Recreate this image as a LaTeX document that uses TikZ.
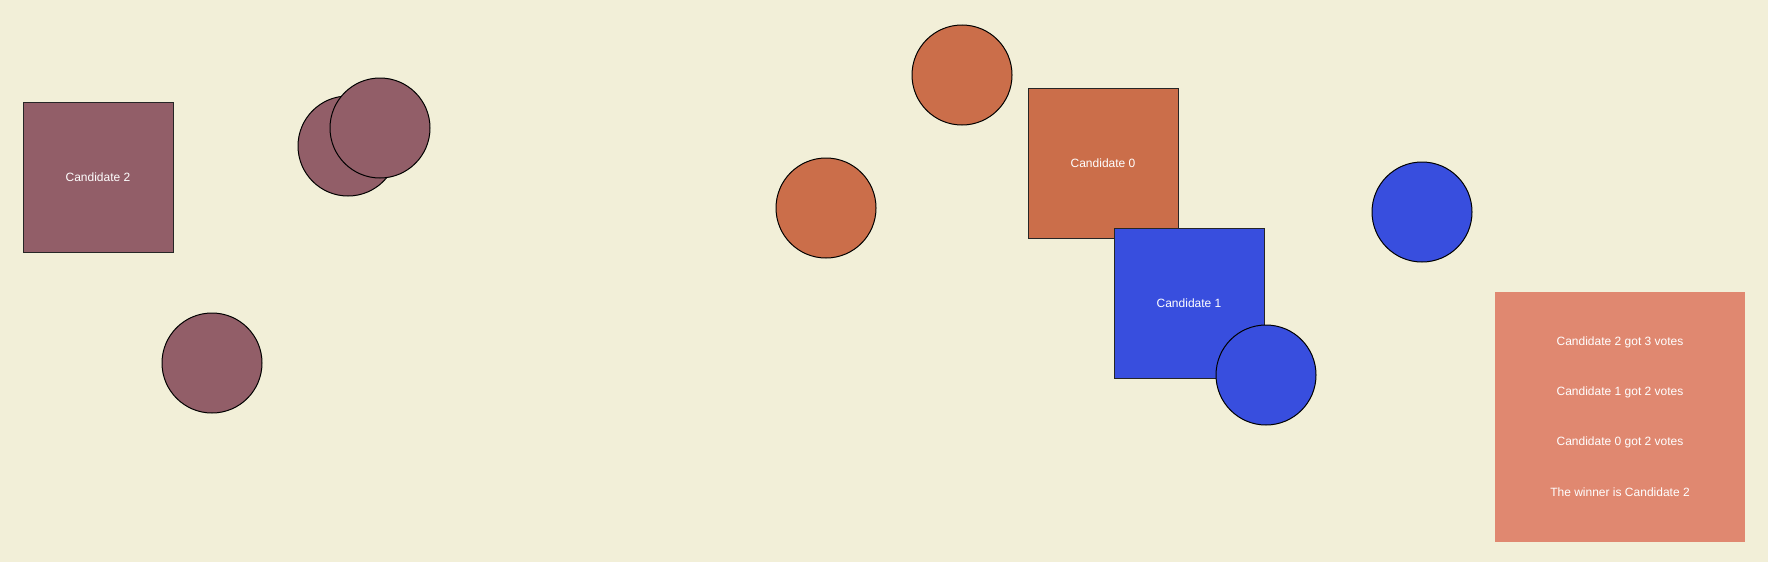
\documentclass[tikz,border=0pt]{standalone}
\usepackage{fontspec}
\setmainfont{Liberation Sans}
\usepackage{tikz}
\usepackage{xcolor}
\definecolor{bgcream}{RGB}{242,239,216}
\definecolor{plum}{RGB}{146,94,104}
\definecolor{rust}{RGB}{203,110,74}
\definecolor{royal}{RGB}{56,78,222}
\definecolor{salmon}{RGB}{224,136,112}
\tikzset{
  cand/.style={rectangle, draw=black!85, line width=1pt, minimum size=150pt,
               inner sep=0pt, text=white, font=\fontsize{12}{14}\selectfont},
  voter/.style={circle, draw=black, line width=1pt, minimum size=100pt,
                inner sep=0pt},
  tallybox/.style={rectangle, fill=salmon, minimum size=250pt, inner sep=0pt},
  tallyline/.style={text=white, inner sep=0pt, font=\fontsize{12}{14}\selectfont},
}

\begin{document}
\begin{tikzpicture}[x=1pt, y=-1pt]
  \fill[bgcream] (0,0) rectangle (1768,562);
  \useasboundingbox (0,0) rectangle (1768,562);

  % candidate 2 and its voters
  \node[cand, fill=plum] (cand2) at (98,177) {Candidate 2};
  \node[voter, fill=plum] (v2a) at (348,146) {};
  \node[voter, fill=plum] (v2b) at (380,128) {};
  \node[voter, fill=plum] (v2c) at (212,363) {};

  % candidate 0 and its voters
  \node[voter, fill=rust] (v0a) at (962,75) {};
  \node[voter, fill=rust] (v0b) at (826,208) {};
  \node[cand, fill=rust] (cand0) at (1103,163) {Candidate 0};

  % candidate 1 and its voters
  \node[cand, fill=royal] (cand1) at (1189,303) {Candidate 1};
  \node[voter, fill=royal] (v1a) at (1266,375) {};
  \node[voter, fill=royal] (v1b) at (1422,212) {};

  % result
  \node[tallybox] (tally) at (1620,417) {};
  \node[tallyline] (tally2) at (1620,342) {Candidate 2 got 3 votes};
  \node[tallyline] (tally1) at (1620,392) {Candidate 1 got 2 votes};
  \node[tallyline] (tally0) at (1620,442) {Candidate 0 got 2 votes};
  \node[tallyline] (winner) at (1620,492) {The winner is Candidate 2};
\end{tikzpicture}
\end{document}
